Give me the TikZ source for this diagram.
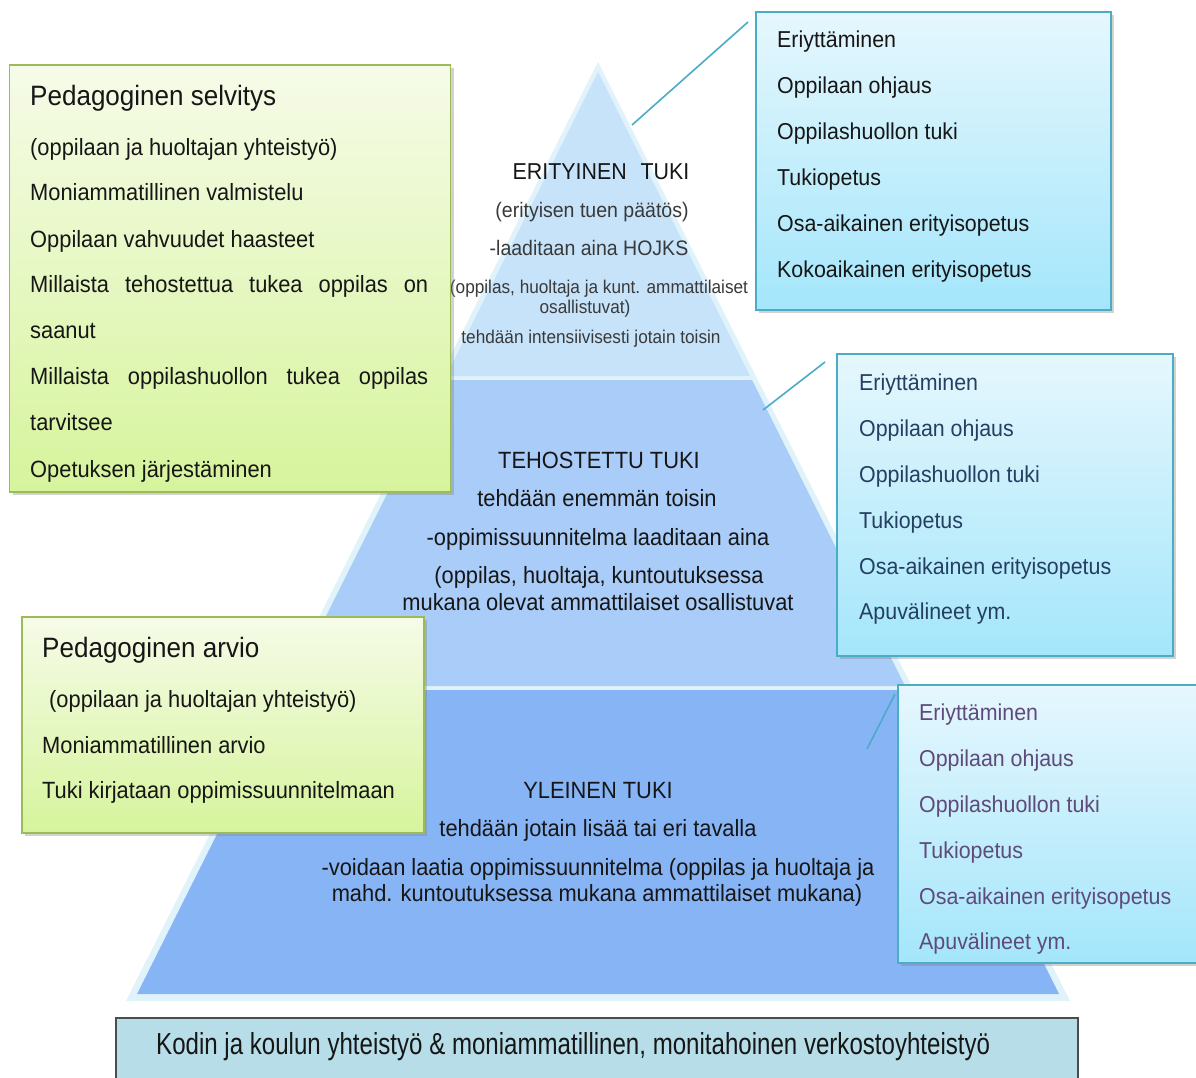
\documentclass[tikz,border=0pt]{standalone}
\usepackage{fontspec}
\setmainfont{Liberation Sans}[FakeStretch=0.93]
\usetikzlibrary{shadows}

\definecolor{glow}{HTML}{E0F3FB}
\definecolor{tierA}{HTML}{C7E3FA}
\definecolor{tierB}{HTML}{A9CCF8}
\definecolor{tierC}{HTML}{87B4F5}
\definecolor{tealline}{HTML}{4AACC5}
\definecolor{bluetop}{HTML}{E6F7FD}
\definecolor{bluebot}{HTML}{A4E6FB}
\definecolor{greentop}{HTML}{F6FBE8}
\definecolor{greenbot}{HTML}{D6F49C}
\definecolor{greenedge}{HTML}{9BBB59}
\definecolor{navytext}{HTML}{243F62}
\definecolor{plumtext}{HTML}{5F4A7C}
\definecolor{bartint}{HTML}{B7DDE8}
\definecolor{ink}{HTML}{161616}

\newcommand\fsz[1]{\fontsize{#1}{#1}\selectfont}

\begin{document}
\begin{tikzpicture}[x=1pt,y=-1pt,
  bluebox/.style={rectangle, draw=tealline, line width=1.5pt, top color=bluetop, bottom color=bluebot,
    drop shadow={shadow xshift=3pt, shadow yshift=-3pt, opacity=0.35}, inner sep=0},
  greenbox/.style={rectangle, draw=greenedge, line width=1.5pt, top color=greentop, bottom color=greenbot,
    drop shadow={shadow xshift=3pt, shadow yshift=-3pt, opacity=0.35}, inner sep=0},
  barbox/.style={rectangle, draw=black!70, line width=1.2pt, fill=bartint, inner sep=0},
  item/.style={anchor=base west, inner sep=0, text=ink, font=\fsz{23}},
  navyitem/.style={item, text=navytext},
  plumitem/.style={item, text=plumtext},
  leftitem/.style={anchor=base west, inner sep=0, text=ink, font=\fsz{23.5}},
  lefttitle/.style={anchor=base west, inner sep=0, text=ink, font=\fsz{28}},
  ptext/.style={anchor=base, inner sep=0, text=ink, font=\fsz{23.5}},
  ptop/.style={anchor=base, inner sep=0, text=ink!85, font=\fsz{21}},
  psmall/.style={anchor=base, inner sep=0, text=ink!85, font=\fsz{18.5}},
  connector/.style={draw=tealline, line width=1.6pt}
]
\useasboundingbox (0,0) rectangle (1196,1077);
\fill[white] (0,0) rectangle (1196,1077);

% pyramid: light halo, then the three tiers
\fill[glow] (598,62) -- (1070,1001) -- (126,1001) -- cycle;
\fill[tierA] (598,72) -- (750,376) -- (446,376) -- cycle;
\fill[tierB] (444,380) -- (752,380) -- (905,686) -- (291,686) -- cycle;
\fill[tierC] (289,690) -- (907,690) -- (1059,994) -- (137,994) -- cycle;

% texts of the top tier
\node[ptext, font=\fsz{23}] (t1) at (601,179) {ERITYINEN\hspace{0.6em}TUKI};
\node[ptop] (t2) at (592,217) {(erityisen tuen päätös)};
\node[ptop] (t3) at (589,255) {-laaditaan aina HOJKS};
\node[psmall] (t4) at (599,293) {(oppilas, huoltaja ja kunt. ammattilaiset};
\node[psmall] (t5) at (585,313) {osallistuvat)};
\node[psmall] (t6) at (591,343) {tehdään intensiivisesti jotain toisin};

% texts of the middle tier
\node[ptext] (m1) at (599,468) {TEHOSTETTU TUKI};
\node[ptext] (m2) at (597,506) {tehdään enemmän toisin};
\node[ptext] (m3) at (598,545) {-oppimissuunnitelma laaditaan aina};
\node[ptext] (m4) at (599,583) {(oppilas, huoltaja, kuntoutuksessa};
\node[ptext] (m5) at (598,610) {mukana olevat ammattilaiset osallistuvat};

% texts of the bottom tier
\node[ptext] (b1) at (598,798) {YLEINEN TUKI};
\node[ptext] (b2) at (598,836) {tehdään jotain lisää tai eri tavalla};
\node[ptext] (b3) at (598,875) {-voidaan laatia oppimissuunnitelma (oppilas ja huoltaja ja};
\node[ptext] (b4) at (597,901) {mahd. kuntoutuksessa mukana ammattilaiset mukana)};

% right-hand boxes
\node[bluebox, minimum width=355pt, minimum height=298pt] (r1) at (933.5,161) {};
\node[bluebox, minimum width=336pt, minimum height=302pt] (r2) at (1005,505) {};
\node[bluebox, minimum width=320pt, minimum height=278pt] (r3) at (1058,824) {};

\node[item] (r1a) at (777,47)  {Eriyttäminen};
\node[item] (r1b) at (777,93)  {Oppilaan ohjaus};
\node[item] (r1c) at (777,139) {Oppilashuollon tuki};
\node[item] (r1d) at (777,185) {Tukiopetus};
\node[item] (r1e) at (777,231) {Osa-aikainen erityisopetus};
\node[item] (r1f) at (777,277) {Kokoaikainen erityisopetus};

\node[navyitem] (r2a) at (859,390) {Eriyttäminen};
\node[navyitem] (r2b) at (859,436) {Oppilaan ohjaus};
\node[navyitem] (r2c) at (859,482) {Oppilashuollon tuki};
\node[navyitem] (r2d) at (859,528) {Tukiopetus};
\node[navyitem] (r2e) at (859,574) {Osa-aikainen erityisopetus};
\node[navyitem] (r2f) at (859,619) {Apuvälineet ym.};

\node[plumitem] (r3a) at (919,720) {Eriyttäminen};
\node[plumitem] (r3b) at (919,766) {Oppilaan ohjaus};
\node[plumitem] (r3c) at (919,812) {Oppilashuollon tuki};
\node[plumitem] (r3d) at (919,858) {Tukiopetus};
\node[plumitem] (r3e) at (919,904) {Osa-aikainen erityisopetus};
\node[plumitem] (r3f) at (919,949) {Apuvälineet ym.};

% connectors from the boxes into the tiers
\coordinate (k1) at (632,125);
\coordinate (k2) at (763,410);
\coordinate (k3) at (867,749);
\coordinate (s1) at (748,22);
\coordinate (s2) at (825,362);
\coordinate (s3) at (895,694);
\draw[connector] (s1) -- (k1);
\draw[connector] (s2) -- (k2);
\draw[connector] (s3) -- (k3);

% left-hand boxes
\node[greenbox, minimum width=441pt, minimum height=427pt] (l1) at (230,278.5) {};
\node[greenbox, minimum width=402pt, minimum height=216pt] (l2) at (223,725) {};

\node[lefttitle] (l1t) at (30,105) {Pedagoginen selvitys};
\node[leftitem] (l1a) at (30,155) {(oppilaan ja huoltajan yhteistyö)};
\node[leftitem] (l1b) at (30,200) {Moniammatillinen valmistelu};
\node[leftitem] (l1c) at (30,247) {Oppilaan vahvuudet haasteet};
\node[leftitem] (l1d) at (30,292) {\makebox[398pt][s]{Millaista tehostettua tukea oppilas on}};
\node[leftitem] (l1e) at (30,338) {saanut};
\node[leftitem] (l1f) at (30,384) {\makebox[398pt][s]{Millaista oppilashuollon tukea oppilas}};
\node[leftitem] (l1g) at (30,430) {tarvitsee};
\node[leftitem] (l1h) at (30,477) {Opetuksen järjestäminen};

\node[lefttitle] (l2t) at (42,657) {Pedagoginen arvio};
\node[leftitem] (l2a) at (49,707) {(oppilaan ja huoltajan yhteistyö)};
\node[leftitem] (l2b) at (42,753) {Moniammatillinen arvio};
\node[leftitem] (l2c) at (42,798) {Tuki kirjataan oppimissuunnitelmaan};

% bottom bar
\node[barbox, minimum width=962pt, minimum height=70pt] (bar) at (597,1053) {};
\node[anchor=base west, inner sep=0, text=ink] (bartext) at (156,1054)
  {\fsz{25}\resizebox{834pt}{22pt}{Kodin ja koulun yhteistyö \& moniammatillinen, monitahoinen verkostoyhteistyö}};
\end{tikzpicture}
\end{document}
